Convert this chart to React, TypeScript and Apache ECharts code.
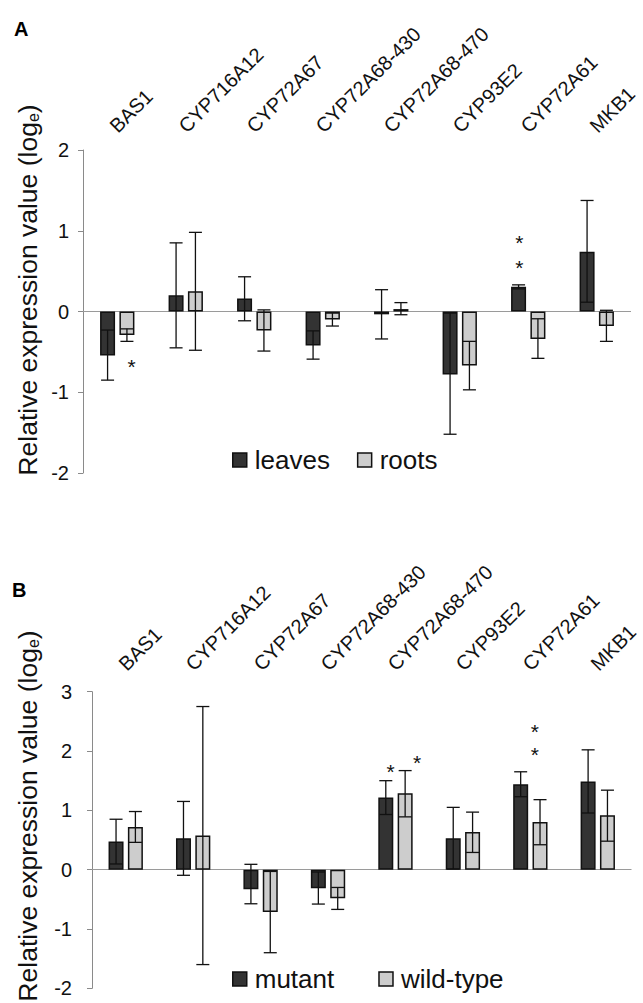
import React, { useEffect, useRef, useState } from "react";
import * as echarts from "echarts";

const categories = [
  "BAS1",
  "CYP716A12",
  "CYP72A67",
  "CYP72A68-430",
  "CYP72A68-470",
  "CYP93E2",
  "CYP72A61",
  "MKB1",
];

// Panel A (leaves vs roots)
const leavesMean = [-0.545, 0.2, 0.16, -0.42, -0.035, -0.78, 0.305, 0.74];
const leavesLow = [-0.85, -0.45, -0.115, -0.59, -0.34, -1.52, 0.28, 0.115];
const leavesHigh = [-0.23, 0.85, 0.43, -0.24, 0.27, -0.02, 0.33, 1.375];
const rootsMean = [-0.29, 0.25, -0.235, -0.1, 0.03, -0.67, -0.34, -0.18];
const rootsLow = [-0.37, -0.48, -0.49, -0.18, -0.04, -0.97, -0.58, -0.37];
const rootsHigh = [-0.215, 0.98, 0.02, -0.02, 0.11, -0.37, -0.09, 0.015];
// [category index, shift in category widths, value]
const starsA = [
  [0, 0.21, -0.615],
  [6, -0.13, 0.913],
  [6, -0.13, 0.603],
];

// Panel B (mutant vs wild-type)
const mutantMean = [0.475, 0.53, -0.33, -0.315, 1.215, 0.53, 1.44, 1.485];
const mutantLow = [0.096, -0.095, -0.575, -0.58, 0.93, 0.01, 1.23, 0.955];
const mutantHigh = [0.85, 1.15, 0.09, -0.04, 1.5, 1.05, 1.65, 2.02];
const wildMean = [0.72, 0.575, -0.715, -0.48, 1.29, 0.635, 0.805, 0.917];
const wildLow = [0.46, -1.6, -1.4, -0.67, 0.89, 0.29, 0.42, 0.48];
const wildHigh = [0.98, 2.75, -0.03, -0.3, 1.67, 0.97, 1.18, 1.34];
const starsB = [
  [4, -0.071, 1.737],
  [4, 0.32, 1.895],
  [6, 0.068, 2.42],
  [6, 0.068, 2.03],
];

const yTicksA = { min: -2, max: 2, interval: 1 };
const yTicksB = { min: -2, max: 3, interval: 1 };

const FONT = "'Liberation Sans', Arial, Helvetica, sans-serif";
const DARK = "#333333";
const LIGHT = "#cdcdcd";
const EDGE = "#111111";
const BAR_W = 15;
const BAR_GAP = 0.29;
const OFF = (BAR_W * (1 + BAR_GAP)) / 2;
const CAP = 13;
const LABEL_SIZE = 20;

function errRender(sign: number) {
  return (params: any, api: any) => {
    const c = api.value(0);
    const x = api.coord([c, 0])[0] + sign * OFF;
    const yl = api.coord([c, api.value(1)])[1];
    const yh = api.coord([c, api.value(2)])[1];
    const st = { stroke: EDGE, lineWidth: 1.3 };
    return {
      type: "group",
      children: [
        { type: "line", shape: { x1: x, y1: yl, x2: x, y2: yh }, style: st },
        { type: "line", shape: { x1: x - CAP / 2, y1: yl, x2: x + CAP / 2, y2: yl }, style: st },
        { type: "line", shape: { x1: x - CAP / 2, y1: yh, x2: x + CAP / 2, y2: yh }, style: st },
      ],
    };
  };
}

function starRender(params: any, api: any) {
  const band = api.size([1, 0])[0];
  const p = api.coord([api.value(0), api.value(2)]);
  return {
    type: "text",
    x: p[0] + api.value(1) * band,
    y: p[1] + 5,
    style: {
      text: "*",
      fontSize: 21,
      fontFamily: FONT,
      fill: "#111",
      align: "center",
      verticalAlign: "middle",
    },
  };
}

function errData(low: number[], high: number[]) {
  return categories.map((_, i) => [i, low[i], high[i]]);
}

function yAxis(grid: number, t: any, margin: number) {
  return {
    type: "value",
    gridIndex: grid,
    min: t.min,
    max: t.max,
    interval: t.interval,
    axisLine: { show: true, lineStyle: { color: "#8a8a8a", width: 1 } },
    axisTick: { show: true, length: 5, lineStyle: { color: "#8a8a8a" } },
    splitLine: { show: false },
    axisLabel: { fontSize: 20, fontFamily: FONT, color: "#111", margin },
  };
}

function xAxis(grid: number) {
  return {
    type: "category",
    gridIndex: grid,
    position: "top",
    data: categories,
    axisLine: { show: false },
    axisTick: { show: false },
    axisLabel: { show: false },
  };
}

function bars(name: string, values: number[], color: string, ax: number, zero: boolean) {
  const s: any = {
    name,
    type: "bar",
    xAxisIndex: ax,
    yAxisIndex: ax,
    data: values,
    barWidth: BAR_W,
    barGap: BAR_GAP * 100 + "%",
    itemStyle: { color, borderColor: EDGE, borderWidth: 1.5 },
    z: 2,
  };
  if (zero) {
    s.markLine = {
      silent: true,
      symbol: ["none", "none"],
      label: { show: false },
      lineStyle: { color: "#9a9a9a", width: 1, type: "solid" },
      data: [{ yAxis: 0 }],
      z: 1,
    };
  }
  return s;
}

function errSeries(ax: number, sign: number, low: number[], high: number[]) {
  return {
    type: "custom",
    xAxisIndex: ax,
    yAxisIndex: ax,
    renderItem: errRender(sign),
    data: errData(low, high),
    encode: { x: 0, y: [1, 2] },
    z: 4,
    silent: true,
  };
}

function starSeries(ax: number, data: number[][]) {
  return {
    type: "custom",
    xAxisIndex: ax,
    yAxisIndex: ax,
    renderItem: starRender,
    data,
    encode: { x: 0, y: 2 },
    z: 5,
    silent: true,
  };
}

function legend(names: string[], left: number, top: number, gap: number) {
  return {
    data: names,
    left,
    top,
    orient: "horizontal",
    padding: 0,
    itemGap: gap,
    itemWidth: 14,
    itemHeight: 14,
    icon: "rect",
    selectedMode: false,
    itemStyle: { borderColor: EDGE, borderWidth: 1.5 },
    textStyle: { fontSize: 26, fontFamily: FONT, color: "#111", padding: [0, 0, 0, 3] },
  };
}

const titleRich = {
  sub: { fontSize: 16, fontFamily: FONT, fill: "#111", verticalAlign: "bottom", padding: [8, 0, 0, 0] },
};

function yTitle(x: number, y: number) {
  return {
    type: "text",
    x,
    y,
    rotation: Math.PI / 2,
    style: {
      text: "Relative expression value (log{sub|e})",
      rich: titleRich,
      fontSize: 26.5,
      fontFamily: FONT,
      fill: "#111",
      align: "center",
      verticalAlign: "middle",
    },
  };
}

function panelLetter(t: string, x: number, y: number) {
  return {
    type: "text",
    x,
    y,
    style: {
      text: t,
      fontSize: 20,
      fontWeight: "bold",
      fontFamily: FONT,
      fill: "#000",
      align: "left",
      verticalAlign: "middle",
    },
  };
}

type Label = { text: string; x: number; y: number };

export default function App() {
  const ref = useRef<HTMLDivElement>(null);
  const [labels, setLabels] = useState<Label[]>([]);
  useEffect(() => {
    document.body.style.margin = "0";
    if (!ref.current) return;
    const chart = echarts.init(ref.current, null, { renderer: "svg" });
    chart.setOption({
      animation: false,
      backgroundColor: "#ffffff",
      textStyle: { fontFamily: FONT },
      grid: [
        { left: 83, width: 548, top: 150, height: 323 },
        { left: 92, width: 539.5, top: 691.7, height: 296.6 },
      ],
      xAxis: [xAxis(0), xAxis(1)],
      yAxis: [yAxis(0, yTicksA, 14), yAxis(1, yTicksB, 20)],
      legend: [
        legend(["leaves", "roots"], 232, 447, 27),
        legend(["mutant", "wild-type"], 232, 966, 44),
      ],
      graphic: [
        panelLetter("A", 14, 29),
        panelLetter("B", 12, 590),
        yTitle(28, 290),
        yTitle(28, 816),
      ],
      series: [
        bars("leaves", leavesMean, DARK, 0, true),
        bars("roots", rootsMean, LIGHT, 0, false),
        errSeries(0, -1, leavesLow, leavesHigh),
        errSeries(0, 1, rootsLow, rootsHigh),
        starSeries(0, starsA),
        bars("mutant", mutantMean, DARK, 1, true),
        bars("wild-type", wildMean, LIGHT, 1, false),
        errSeries(1, -1, mutantLow, mutantHigh),
        errSeries(1, 1, wildLow, wildHigh),
        starSeries(1, starsB),
      ],
    });

    // Rotated category labels placed from the chart's own category axes.
    const out: Label[] = [];
    const panels = [
      { ax: 0, top: yTicksA.max, gap: 21, dx: -4 },
      { ax: 1, top: yTicksB.max, gap: 25, dx: -4 },
    ];
    panels.forEach((p) => {
      const y = Number(chart.convertToPixel({ yAxisIndex: p.ax } as any, p.top as any));
      categories.forEach((c) => {
        const x = Number(chart.convertToPixel({ xAxisIndex: p.ax } as any, c as any));
        out.push({ text: c, x: x + p.dx, y: y - p.gap });
      });
    });
    setLabels(out);

    return () => chart.dispose();
  }, []);
  return (
    <div style={{ position: "relative", width: 643, height: 1003, overflow: "hidden" }}>
      <div ref={ref} style={{ position: "absolute", left: 0, top: 0, width: 643, height: 1003 }} />
      {labels.map((l, i) => (
        <div
          key={i}
          style={{
            position: "absolute",
            left: l.x,
            top: l.y - LABEL_SIZE / 2,
            height: LABEL_SIZE,
            lineHeight: LABEL_SIZE + "px",
            fontSize: LABEL_SIZE,
            fontFamily: FONT,
            color: "#111",
            whiteSpace: "nowrap",
            transformOrigin: `0px ${LABEL_SIZE / 2}px`,
            transform: "rotate(-45deg)",
            pointerEvents: "none",
          }}
        >
          {l.text}
        </div>
      ))}
    </div>
  );
}
